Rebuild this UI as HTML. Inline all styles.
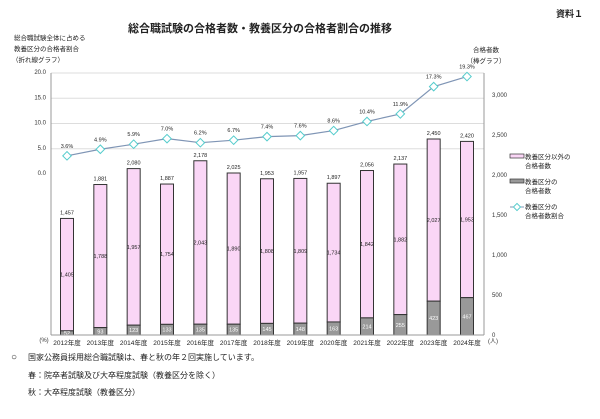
<!DOCTYPE html>
<html><head><meta charset="utf-8">
<style>
body{margin:0;background:#fff;width:600px;height:414px;overflow:hidden;font-family:"Liberation Sans","Noto Sans CJK JP",sans-serif;}
svg text{font-family:"Liberation Sans","Noto Sans CJK JP",sans-serif;}
</style></head>
<body>
<svg id="c" width="600" height="414">
<text x="260" y="32" font-size="11" font-weight="bold" text-anchor="middle" fill="#222">総合職試験の合格者数・教養区分の合格者割合の推移</text>
<text x="583" y="17" font-size="9" font-weight="bold" text-anchor="end" fill="#222">資料１</text>
<g font-size="6.5" fill="#222">
<text x="14" y="40">総合職試験全体に占める</text>
<text x="14" y="51">教養区分の合格者割合</text>
<text x="12" y="62">（折れ線グラフ）</text>
</g>
<g font-size="6.5" fill="#222">
<text x="486" y="52" text-anchor="middle">合格者数</text>
<text x="486" y="63" text-anchor="middle">（棒グラフ）</text>
</g>
<g id="grid"></g><g id="bars"></g><g id="line"></g><g id="axes"></g>
<g font-size="6.5" fill="#222">
<g><rect x="510" y="154" width="14" height="4" fill="#fad6f6" stroke="#333" stroke-width="0.7"/><text x="525" y="159">教養区分以外の</text><text x="525" y="168">合格者数</text></g>
<g><rect x="510" y="179" width="14" height="4" fill="#999" stroke="#333" stroke-width="0.7"/><text x="525" y="184">教養区分の</text><text x="525" y="193">合格者数</text></g>
<g><line x1="510" y1="207" x2="524" y2="207" stroke="#7f95b5"/><rect x="514.5" y="204.5" width="5" height="5" fill="#fff" stroke="#5cc" transform="rotate(45 517 207)"/><text x="525" y="209">教養区分の</text><text x="525" y="218">合格者数割合</text></g>
</g>
<g font-size="8" fill="#222">
<text x="11" y="360" font-size="10">○</text>
<text x="28" y="360">国家公務員採用総合職試験は、春と秋の年２回実施しています。</text>
<text x="28" y="378">春：院卒者試験及び大卒程度試験（教養区分を除く）</text>
<text x="28" y="395">秋：大卒程度試験（教養区分）</text>
</g>
</svg>
<script>
const years=["2012年度","2013年度","2014年度","2015年度","2016年度","2017年度","2018年度","2019年度","2020年度","2021年度","2022年度","2023年度","2024年度"];
const kyoyo=[52,93,123,133,135,135,145,148,163,214,255,423,467];
const other=[1405,1788,1957,1754,2043,1890,1808,1809,1734,1842,1882,2027,1953];
const totals=[1457,1881,2080,1887,2178,2025,1953,1957,1897,2056,2137,2450,2420];
const ratio=[3.6,4.9,5.9,7.0,6.2,6.7,7.4,7.6,8.6,10.4,11.9,17.3,19.3];
const rightTicks=[0,500,1000,1500,2000,2500,3000];
const leftTicks=[0,5,10,15,20];
const NS="http://www.w3.org/2000/svg";
const L=51,R=484,B=335,T=73;
const xc=i=>67+i*((467-67)/(years.length-1));
const yR=v=>B-v*0.08;
const yL=v=>174-v*(174-T)/20;
function mk(p,tag,a,txt){const e=document.createElementNS(NS,tag);for(const k in a)e.setAttribute(k,a[k]);if(txt!==undefined)e.textContent=txt;document.getElementById(p).appendChild(e);return e;}
leftTicks.forEach(t=>{
 if(t>0){const g=mk('grid','line',{x1:L,x2:R,y1:yL(t),y2:yL(t),stroke:'#ddd','stroke-width':1});
 
 }
 const e=mk('axes','text',{x:L-5,y:yL(t)+1,'font-size':6,'text-anchor':'end',fill:'#333'},t.toFixed(1));
 
 
});
rightTicks.forEach(t=>{
 const e=mk('axes','text',{x:R+8,y:yR(t)+2,'font-size':6,fill:'#333'},t===0?'0':t.toLocaleString('en-US'));
 
 
});
let a=mk('axes','line',{x1:L,x2:L,y1:T,y2:B,stroke:'#999'});
a=mk('axes','line',{x1:R,x2:R,y1:T,y2:B,stroke:'#999'});
a=mk('axes','line',{x1:L,x2:R,y1:B,y2:B,stroke:'#999'});
a=mk('axes','text',{x:44,y:342,'font-size':6,fill:'#333','text-anchor':'middle'},'(%)');
a=mk('axes','text',{x:493,y:343,'font-size':6,fill:'#333','text-anchor':'middle'},'(人)');
const bw=13;
years.forEach((y,i)=>{
 const x=xc(i);
 let e=mk('axes','text',{x:x,y:345,'font-size':6.5,'text-anchor':'middle',fill:'#222'},y);
 
 
 const yk=yR(kyoyo[i]),yt=yR(kyoyo[i]+other[i]);
 e=mk('bars','rect',{x:x-bw/2,y:yt,width:bw,height:yk-yt,fill:'#fad6f6',stroke:'#333','stroke-width':1});
 
 
 e=mk('bars','rect',{x:x-bw/2,y:yk,width:bw,height:B-yk,fill:'#999',stroke:'#333','stroke-width':1});
 
 
 e=mk('bars','text',{x:x,y:yt-4,'font-size':5.5,'text-anchor':'middle',fill:'#222'},totals[i].toLocaleString('en-US'));
 
 
 e=mk('bars','text',{x:x,y:(yt+yk)/2+2,'font-size':5.5,'text-anchor':'middle',fill:'#222'},other[i].toLocaleString('en-US'));
 
 
 e=mk('bars','text',{x:x,y:(yk+B)/2+2,'font-size':5.5,'text-anchor':'middle',fill:'#fff'},kyoyo[i]);
 
 
});
const pl=mk('line','polyline',{points:ratio.map((v,i)=>xc(i)+','+yL(v)).join(' '),fill:'none',stroke:'#7f95b5','stroke-width':1.2});


ratio.forEach((v,i)=>{
 const x=xc(i),y=yL(v);
 let e=mk('line','rect',{x:x-3,y:y-3,width:6,height:6,fill:'#fff',stroke:'#5cc','stroke-width':1,transform:`rotate(45 ${x} ${y})`});
 
 
 e=mk('line','text',{x:x,y:y-8,'font-size':5.5,'text-anchor':'middle',fill:'#222'},v.toFixed(1)+'%');
 
 
});
</script>
</body></html>
